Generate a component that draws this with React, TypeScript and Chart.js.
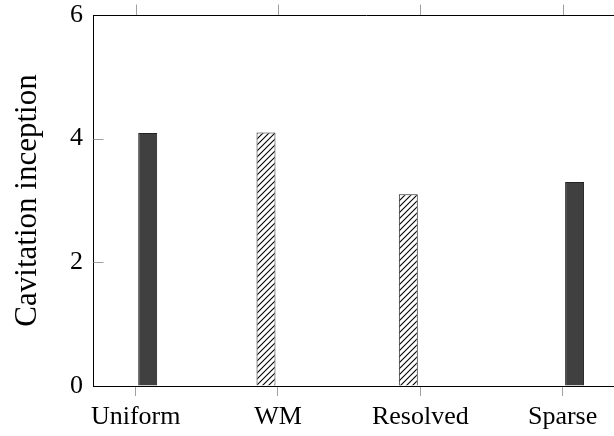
import React, { useEffect, useRef } from "react";
import { Chart, registerables } from "chart.js";

Chart.register(...registerables);

const categories = ["Uniform", "WM", "Resolved", "Sparse"];
const hatchedValues: (number | null)[] = [null, 4.1, 3.1, null];
const solidValues: (number | null)[] = [4.09, null, null, 3.3];
const yTicks = [0, 2, 4, 6];
const yTitle = "Cavitation inception";

const SERIF = "'Liberation Serif', 'Times New Roman', serif";

function makeHatch(): CanvasPattern | string {
  const s = 6;
  const c = document.createElement("canvas");
  c.width = s;
  c.height = s;
  const g = c.getContext("2d");
  if (!g) return "#fff";
  g.fillStyle = "#fff";
  g.fillRect(0, 0, s, s);
  g.strokeStyle = "#000";
  g.lineWidth = 1.1;
  g.beginPath();
  g.moveTo(0, s);
  g.lineTo(s, 0);
  g.moveTo(-1, 1);
  g.lineTo(1, -1);
  g.moveTo(s - 1, s + 1);
  g.lineTo(s + 1, s - 1);
  g.stroke();
  return g.createPattern(c, "repeat") || "#fff";
}

const framePlugin = {
  id: "frame",
  afterDraw(chart: any) {
    const { ctx, chartArea, scales } = chart;
    const top = Math.round(chartArea.top) + 0.5;
    const left = Math.round(chartArea.left) + 0.5;
    ctx.save();
    ctx.lineWidth = 1;
    ctx.strokeStyle = "#a0a0a0";
    ctx.beginPath();
    for (const t of scales.x.ticks) {
      const x = Math.round(scales.x.getPixelForValue(t.value)) + 0.5;
      ctx.moveTo(x, top - 11);
      ctx.lineTo(x, top);
    }
    for (const t of scales.y.ticks) {
      const y = Math.round(scales.y.getPixelForValue(t.value)) + 0.5;
      if (t.value === 0 || t.value === 6) continue;
      ctx.moveTo(left, y);
      ctx.lineTo(left + 10, y);
    }
    ctx.stroke();
    ctx.strokeStyle = "#000";
    ctx.beginPath();
    ctx.moveTo(chartArea.left, top);
    ctx.lineTo(chartArea.right, top);
    ctx.stroke();
    ctx.restore();
  },
};

export default function App() {
  const ref = useRef<HTMLCanvasElement>(null);
  useEffect(() => {
    if (!ref.current) return;
    const hatch = makeHatch();
    const chart = new Chart(ref.current, {
      type: "bar",
      data: {
        datasets: [
          {
            label: "Hatched",
            data: categories.map((_, i) => ({ x: i, y: hatchedValues[i] })) as any,
            backgroundColor: hatch as any,
            borderColor: "#222",
            borderWidth: 1,
          },
          {
            label: "Solid",
            data: categories.map((_, i) => ({ x: i, y: solidValues[i] })) as any,
            backgroundColor: "#404040",
            borderColor: "#222",
            borderWidth: 1,
          },
        ],
      },
      options: {
        responsive: false,
        animation: false,
        categoryPercentage: 0.337,
        barPercentage: 0.79,
        layout: { padding: { top: 15, left: 0, right: 0, bottom: 0 } },
        plugins: { legend: { display: false }, tooltip: { enabled: false } },
        scales: {
          x: {
            type: "linear",
            offset: false,
            min: -0.3,
            max: 3.544,
            afterBuildTicks: (scale: any) => {
              scale.ticks = categories.map((_, i) => ({ value: i }));
            },
            afterFit: (scale: any) => {
              scale.height = 50;
              scale.paddingLeft = 0;
              scale.paddingRight = 0;
            },
            grid: {
              display: true,
              offset: false,
              drawOnChartArea: false,
              drawTicks: true,
              tickLength: 10,
              tickColor: "#a0a0a0",
            },
            border: { display: true, color: "#000", width: 1 },
            ticks: {
              autoSkip: false,
              maxRotation: 0,
              padding: 6,
              color: "#000",
              font: { family: SERIF, size: 26 },
              callback: (v: any) => categories[Number(v)] ?? "",
            },
          },
          y: {
            min: 0,
            max: 6,
            afterBuildTicks: (scale: any) => {
              scale.ticks = yTicks.map((v) => ({ value: v }));
            },
            afterFit: (scale: any) => {
              scale.width = 93;
              scale.paddingTop = 0;
              scale.paddingBottom = 0;
            },
            grid: { display: true, drawOnChartArea: false, drawTicks: false },
            border: { display: true, color: "#000", width: 1 },
            ticks: {
              padding: 10,
              color: "#000",
              font: { family: SERIF, size: 26 },
            },
            title: {
              display: true,
              text: yTitle,
              color: "#000",
              padding: { top: 9, bottom: 0 },
              font: { family: SERIF, size: 31 },
            },
          },
        },
      },
      plugins: [framePlugin],
    });
    return () => chart.destroy();
  }, []);
  return (
    <div
      style={{
        position: "fixed",
        left: 0,
        top: 0,
        width: 614,
        height: 436,
        overflow: "hidden",
        background: "#fff",
      }}
    >
      <canvas ref={ref} width={640} height={436} style={{ width: 640, height: 436, display: "block" }} />
    </div>
  );
}
